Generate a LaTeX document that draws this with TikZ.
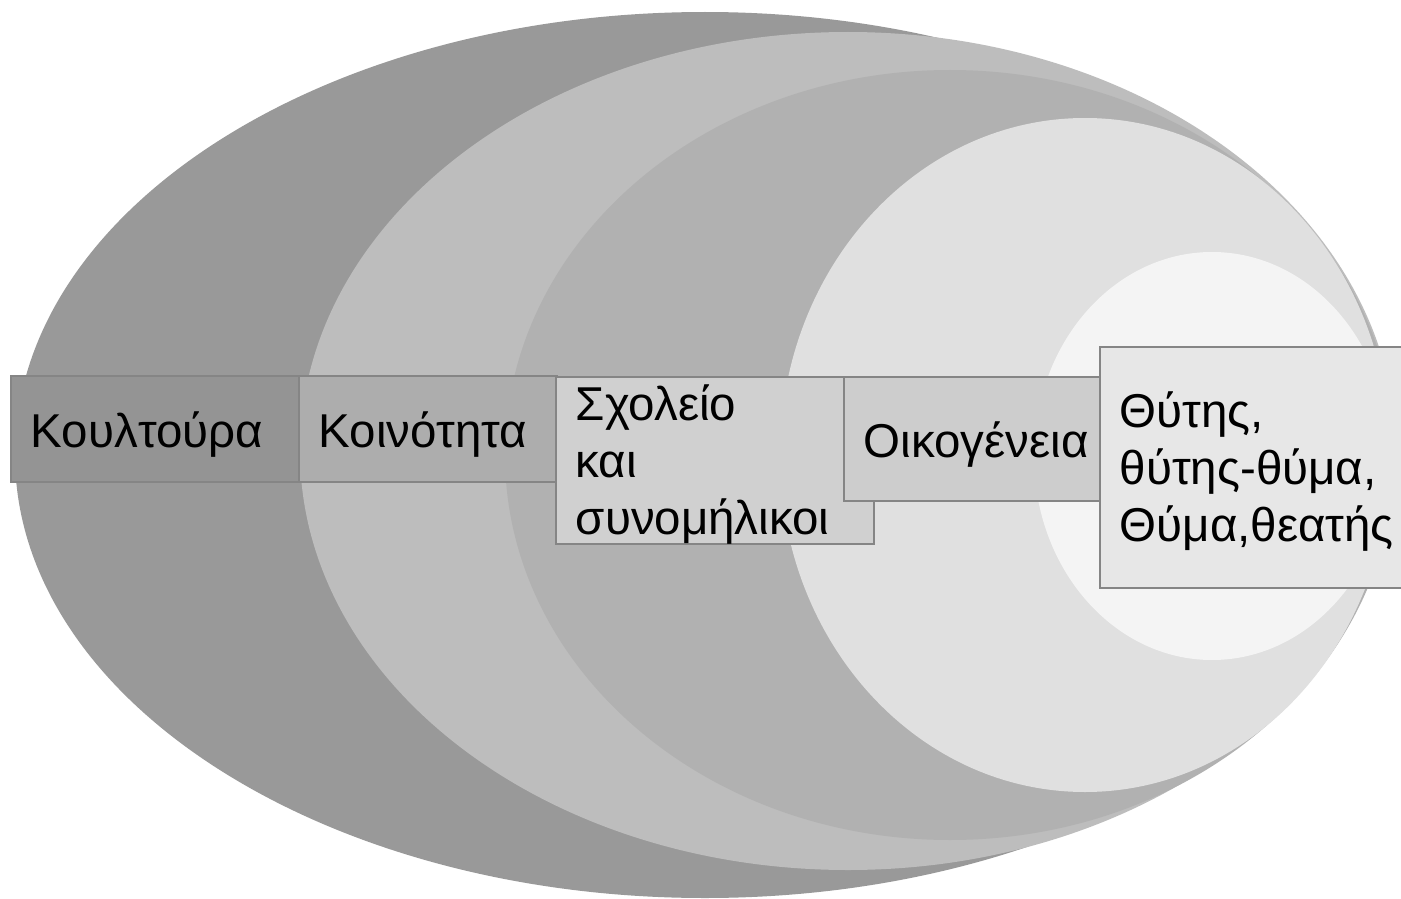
\documentclass[tikz,border=0pt]{standalone}
\usepackage{fontspec}
\setmainfont{Liberation Sans}
\usepackage{tikz}
\definecolor{ringa}{HTML}{999999}
\definecolor{ringb}{HTML}{BDBDBD}
\definecolor{ringc}{HTML}{B1B1B1}
\definecolor{ringd}{HTML}{E0E0E0}
\definecolor{ringe}{HTML}{F4F4F4}
\definecolor{boxline}{HTML}{858585}

\begin{document}
\begin{tikzpicture}[x=1pt, y=-1pt,
  lbl/.style={draw=boxline, line width=1.5pt, anchor=north west, align=left,
    inner xsep=20pt, inner ysep=0pt, text=black,
    font=\fontsize{47.5}{57}\selectfont},
  oneline/.style={lbl, text height=38pt, text depth=0pt},
  threeline/.style={lbl, text height=36pt, text depth=115pt}]
  \useasboundingbox (0,0) rectangle (1401,899);
  \fill[white] (0,0) rectangle (1401,899);
  \fill[ringa] (705,455) ellipse [x radius=690, y radius=443];
  \fill[ringb] (848,451) ellipse [x radius=548, y radius=419];
  \fill[ringc] (950,455) ellipse [x radius=445, y radius=385];
  \fill[ringd] (1085,455) ellipse [x radius=305, y radius=337];
  \fill[ringe] (1212,456) ellipse [x radius=178, y radius=204];
  \node[oneline, fill=ringa!97!black, text width=248pt, minimum height=106pt] (kultura) at (10,375) {Κουλτούρα};
  \node[oneline, fill=ringc!98!black, text width=218pt, minimum height=106pt] (koinotita) at (298,375) {Κοινότητα};
  \node[threeline, fill=gray!37, text width=278pt, minimum height=167pt] (sxoleio) at (555,376) {Σχολείο\\και\\συνομήλικοι};
  \node[oneline, fill=gray!39, text width=217pt, minimum height=124pt] (oikogeneia) at (843,376) {Οικογένεια};
  \node[threeline, fill=gray!19, text width=280pt, minimum height=241pt] (thytis) at (1099,346) {Θύτης,\\θύτης-θύμα,\\Θύμα,θεατής};
\end{tikzpicture}
\end{document}
